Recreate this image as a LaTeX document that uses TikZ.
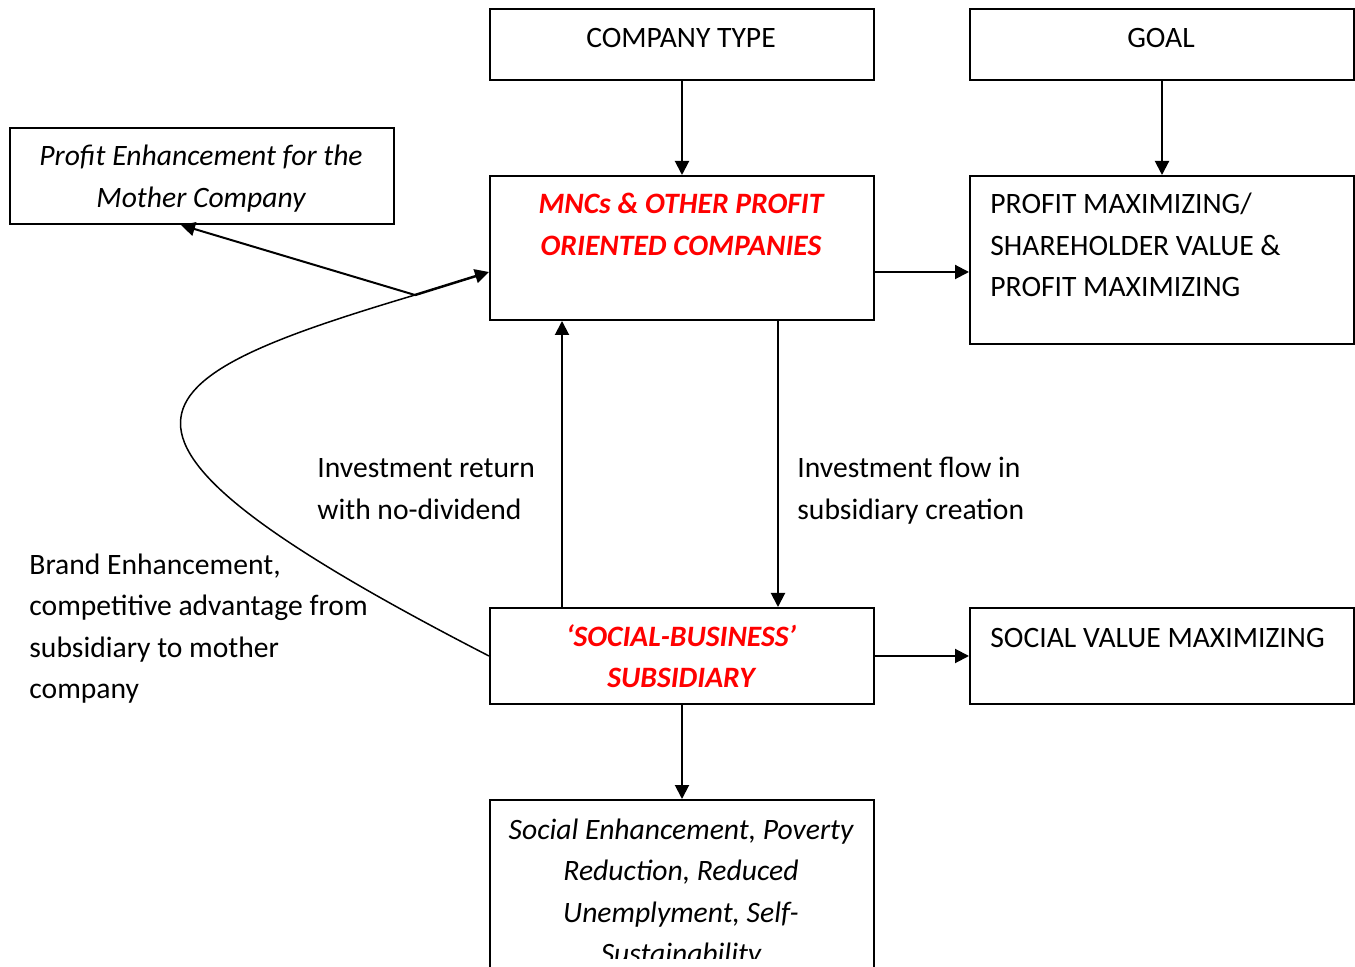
\documentclass[tikz,border=0pt]{standalone}
\usepackage{fontspec}
\setmainfont{Carlito}
\usetikzlibrary{arrows.meta}
\newcommand{\fsz}{\fontsize{14.8}{20.75}\selectfont}
\begin{document}
\begin{tikzpicture}[x=0.5pt, y=-0.5pt,
  box/.style={draw, line width=1pt, minimum width=192pt, inner sep=0pt, anchor=north west},
  txt/.style={font=\fsz, inner sep=0pt, align=center, anchor=base},
  ltxt/.style={font=\fsz, inner sep=0pt, align=left, anchor=base west},
  redtxt/.style={txt, text=red, font=\fsz\bfseries\itshape},
  arr/.style={line width=1pt, -{Triangle[length=7pt,width=7pt]}}]
\useasboundingbox (0,0) rectangle (1355,967);
\clip (0,0) rectangle (1355,967);

% Boxes
\node[box, minimum height=35.5pt] (ctype) at (489,8) {};
\node[box, minimum height=35.5pt] (goal) at (969,8) {};
\node[box, minimum height=48pt] (profit) at (9,127) {};
\node[box, minimum height=72pt] (mnc) at (489,175) {};
\node[box, minimum height=84pt] (pmax) at (969,175) {};
\node[box, minimum height=48pt] (sbs) at (489,607) {};
\node[box, minimum height=48pt] (svm) at (969,607) {};
\node[box, minimum height=90pt] (social) at (489,799) {};

% Box texts (placed by the baseline of their last line)
\node[txt] (ctype-t) at (681,47.5) {COMPANY TYPE};
\node[txt] (goal-t) at (1161,47.5) {GOAL};
\node[txt, font=\fsz\itshape] (profit-t) at (201,207.5) {Profit Enhancement for the\\Mother Company};
\node[redtxt] (mnc-t) at (681,255.5) {MNCs \& OTHER PROFIT\\ORIENTED COMPANIES};
\node[ltxt] (pmax-t) at (990,297) {PROFIT MAXIMIZING/\\SHAREHOLDER VALUE \&\\PROFIT MAXIMIZING};
\node[redtxt] (sbs-t) at (681,687.5) {‘SOCIAL-BUSINESS’\\SUBSIDIARY};
\node[ltxt] (svm-t) at (990,647) {SOCIAL VALUE MAXIMIZING};
\begin{scope}
\clip (489,799) rectangle (873,958);
\node[txt, font=\fsz\itshape] (social-t) at (681,963.5) {Social Enhancement, Poverty\\Reduction, Reduced\\Unemplyment, Self-\\Sustainability};
\end{scope}

% Free labels
\node[ltxt] (ret) at (317,519.5) {Investment return\\with no-dividend};
\node[ltxt] (flow) at (797,519.5) {Investment flow in\\subsidiary creation};
\node[ltxt] (brand) at (29,698.5) {Brand Enhancement,\\competitive advantage from\\subsidiary to mother\\company};

% Arrows
\draw[arr] (ctype) -- (mnc);
\draw[arr] (goal) -- (pmax);
\draw[arr] ([yshift=-12pt]mnc.east) -- ([yshift=-12pt]mnc.east -| pmax.west);
\draw[arr] (sbs) -- (svm);
\draw[arr] (sbs) -- (social);
\draw[arr] ([xshift=-60pt]sbs.north) -- ([xshift=-60pt]mnc.south);
\draw[arr] ([xshift=48pt]mnc.south) -- ([xshift=48pt]sbs.north);

% Feedback loop
\coordinate (split) at (415,295);
\draw[line width=0.75pt] (sbs.west) .. controls (50,430) and (130,380) .. (split);
\draw[arr, line width=1.25pt] (split) -- ([yshift=-12pt]mnc.west);
\draw[arr] (split) -- ([xshift=-10.5pt]profit.south);
\end{tikzpicture}
\end{document}
